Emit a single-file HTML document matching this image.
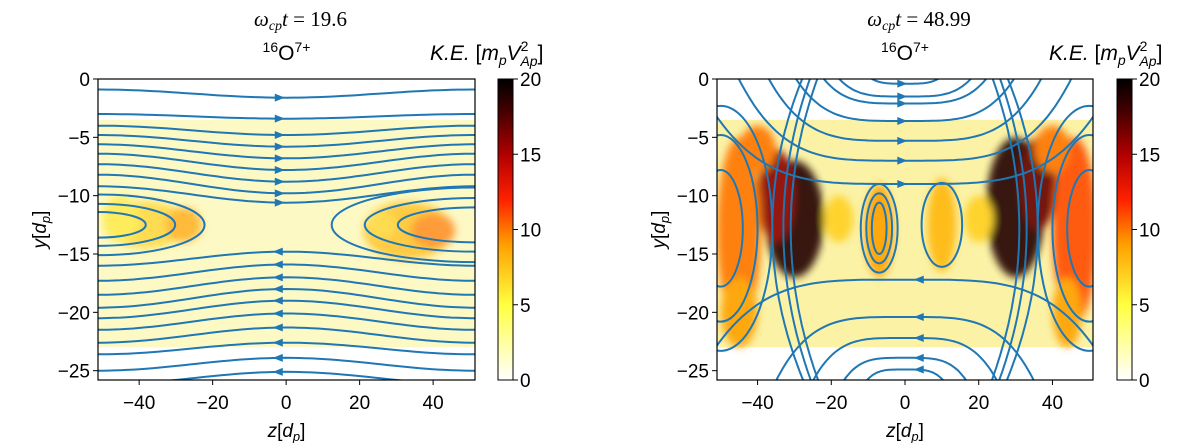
<!DOCTYPE html>
<html><head><meta charset="utf-8">
<style>
html,body{margin:0;padding:0;background:#fff;}
svg{display:block;font-family:"Liberation Sans",sans-serif;}
.tk{font-size:19px;fill:#000;}
</style></head>
<body>
<svg id="fig" width="1200" height="443" viewBox="0 0 1200 443" xmlns="http://www.w3.org/2000/svg">
<defs>
<linearGradient id="cmap" x1="0" y1="1" x2="0" y2="0">
<stop offset="0" stop-color="#ffffff"/><stop offset="0.25" stop-color="#ffff40"/>
<stop offset="0.45" stop-color="#ffa000"/><stop offset="0.6" stop-color="#ff2000"/>
<stop offset="0.75" stop-color="#b00000"/><stop offset="0.9" stop-color="#400000"/>
<stop offset="1" stop-color="#000000"/></linearGradient>
<filter id="blur" x="-50%" y="-50%" width="200%" height="200%"><feGaussianBlur stdDeviation="4"/></filter>
<clipPath id="clipL"><rect x="98" y="79" width="377" height="301"/></clipPath>
<clipPath id="clipR"><rect x="717" y="79" width="376" height="301"/></clipPath>
</defs>
</svg>
<script>
// ---- data ----
const xTicks=[-40,-20,0,20,40];
const yTicks=[0,-5,-10,-15,-20,-25];
const cbTicks=[0,5,10,15,20];
const titles=["19.6","48.99"];
// left panel hot spots
const lSpotZ=[-38,-28,-45,33,40,26];
const lSpotY=[-12.5,-12.5,-12,-13,-13,-12.5];
const lSpotRz=[11,5,5,12,6,4];
const lSpotRy=[2,1.5,2,2.5,1.5,1.2];
const lSpotKE=[7,9,6,8,10,7];
// right panel hot spots
const rSpotZ=[-30,-35,-45,30,36,46,-7,10,-45,44,-18,20,-40,40];
const rSpotY=[-12,-10,-13,-11,-9,-13,-13,-12.5,-20,-20,-12,-12,-6,-6];
const rSpotRz=[8,5,6,8,5,6,4,4,5,4,4,4,5,5];
const rSpotRy=[5,4,8,6,4,8,4,4,3,3,2,2,2,2];
const rSpotKE=[19,16,10,19,17,11,9,8,9,9,7,7,10,10];
// left streamlines: center y, edge y
const lUpC=[-1.6,-3.4,-4.8,-5.8,-6.8,-7.8,-8.8,-9.8,-10.6];
const lUpE=[-0.9,-3.0,-4.0,-4.8,-5.6,-6.4,-7.3,-8.2,-9.2];
const lLoC=[-14.8,-15.9,-17.0,-18.0,-19.0,-20.1,-21.3,-22.6,-23.9,-25.1];
const lLoE=[-16.0,-17.3,-18.5,-19.6,-20.5,-21.5,-22.6,-23.6,-25.0,-26.2];
const lIslZ=[-51.2,-51.2,-51.2,51.4,51.4,51.4];
const lIslRz=[29,21,13,39,30,21];
const lIslRy=[2.6,1.8,1.1,3.2,2.3,1.5];
// right streamlines
const rUpC=[-0.4,-1.5,-2.1,-3.6,-5.3,-7.0,-9.0];
const rUpH=[14,22,26,33,40,48,60];
const rLoC=[-24.9,-23.9,-22.2,-20.4,-17.2];
const rLoH=[14,20,28,38,60];
const rVertZ=[-23,-25,-27,23,25,27];
const rVertB=[-8,-8,-9,8,8,9];
const rIslZ=[-7,-7,-7,10,-50,-50,-50,50,50,50];
const rIslY=[-12.8,-12.8,-12.8,-12.5,-12.8,-12.8,-12.8,-12.8,-12.8,-12.8];
const rIslRz=[5,3.5,2,5.5,6,10,14,6,10,14];
const rIslRy=[3.8,3,2.2,3.6,5,8,10.5,5,8,10.5];

const NS="http://www.w3.org/2000/svg";
const svg=document.getElementById('fig');
function mk(tag,attrs,parent){const e=document.createElementNS(NS,tag);for(const k in attrs)e.setAttribute(k,attrs[k]);(parent||svg).appendChild(e);return e;}
function keColor(v){
  const stops=[[0,[255,255,255]],[0.25,[255,255,64]],[0.45,[255,160,0]],[0.6,[255,32,0]],[0.75,[176,0,0]],[0.9,[64,0,0]],[1,[0,0,0]]];
  const t=Math.max(0,Math.min(1,v/20));
  for(let i=1;i<stops.length;i++){if(t<=stops[i][0]){const a=stops[i-1],b=stops[i];const f=(t-a[0])/(b[0]-a[0]);
    const c=a[1].map((x,j)=>Math.round(x+(b[1][j]-x)*f));return `rgb(${c[0]},${c[1]},${c[2]})`;}}
  return '#000';
}
function panel(P){
  const sx=z=>P.x0+(z-P.zmin)/(P.zmax-P.zmin)*(P.x1-P.x0);
  const sy=y=>P.y0+(0-y)/(25.8)*(P.y1-P.y0);
  const g=mk('g',{'clip-path':`url(#${P.clip})`});
  
  
  const band=mk('rect',{x:P.x0,y:sy(-3.5),width:P.x1-P.x0,height:sy(-23)-sy(-3.5),fill:P.band},g);
  
  
  const sg=mk('g',{filter:'url(#blur)',opacity:P.spotOp},g);
  for(let i=0;i<P.sz.length;i++){
    const e=mk('ellipse',{cx:sx(P.sz[i]),cy:sy(P.sy[i]),rx:P.srz[i]*(P.x1-P.x0)/102.6,ry:P.sry[i]*(P.y1-P.y0)/25.8,fill:keColor(P.ske[i])},sg);
    
    
  }
  const lg=mk('g',{fill:'none',stroke:'#1f77b4','stroke-width':2},g);
  P.lines(sx,sy,lg);
  const fr=mk('rect',{x:P.x0,y:P.y0,width:P.x1-P.x0,height:P.y1-P.y0,fill:'none',stroke:'#000','stroke-width':1.2});
  
  
  xTicks.forEach(v=>{const x=sx(v);mk('line',{x1:x,x2:x,y1:P.y1,y2:P.y1+5,stroke:'#000'});
    const t=mk('text',{x:x,y:P.y1+29,'text-anchor':'middle',class:'tk'});t.textContent=(v<0?'\u2212':'')+Math.abs(v);
    
    });
  yTicks.forEach(v=>{const y=sy(v);mk('line',{x1:P.x0-5,x2:P.x0,y1:y,y2:y,stroke:'#000'});
    const t=mk('text',{x:P.x0-8,y:y+7,'text-anchor':'end',class:'tk'});t.textContent=(v<0?'\u2212':'')+Math.abs(v);
    
    });
  const xl=mk('text',{x:(P.x0+P.x1)/2,y:437,'text-anchor':'middle',class:'tk'});
  xl.innerHTML='<tspan font-style="italic">z</tspan>[<tspan font-style="italic">d</tspan><tspan font-size="13" dy="4" font-style="italic">p</tspan><tspan dy="-4">]</tspan>';
  
  
  const yl=mk('text',{transform:`translate(${P.x0-52},${(P.y0+P.y1)/2}) rotate(-90)`,'text-anchor':'middle',class:'tk'});
  yl.innerHTML='<tspan font-style="italic">y</tspan>[<tspan font-style="italic">d</tspan><tspan font-size="13" dy="4" font-style="italic">p</tspan><tspan dy="-4">]</tspan>';
  
  
  const cx=(P.x0+P.x1)/2;
  const t1=mk('text',{x:cx+14,y:26,'text-anchor':'middle','font-family':'Liberation Serif,serif','font-size':21});
  t1.innerHTML='<tspan font-style="italic">ω</tspan><tspan font-style="italic" font-size="14" dy="4">cp</tspan><tspan font-style="italic" dy="-4">t</tspan> = '+P.title;
  
  
  const t2=mk('text',{x:cx,y:60,'text-anchor':'middle','font-size':21});
  t2.innerHTML='<tspan font-size="14" dy="-8">16</tspan><tspan dy="8">O</tspan><tspan font-size="14" dy="-8">7+</tspan>';
  
  
  const cb=mk('rect',{x:P.cbx,y:P.y0,width:15,height:P.y1-P.y0,fill:'url(#cmap)',stroke:'#000','stroke-width':1});
  
  
  cbTicks.forEach(v=>{const y=P.y1-v/20*(P.y1-P.y0);mk('line',{x1:P.cbx+15,x2:P.cbx+20,y1:y,y2:y,stroke:'#000'});
    const t=mk('text',{x:P.cbx+22,y:y+7,class:'tk'});t.textContent=v;
    
    });
  const cl=mk('text',{x:P.cbx-68,y:60,'font-size':21});
  cl.innerHTML='<tspan font-style="italic">K.E.</tspan> [<tspan font-style="italic">m</tspan><tspan font-style="italic" font-size="14" dy="5">p</tspan><tspan font-style="italic" dy="-5">V</tspan><tspan font-size="14" dy="-9">2</tspan><tspan font-style="italic" font-size="14" dx="-8" dy="15">Ap</tspan><tspan dy="-6">]</tspan>';
  
  
}
function arrow(g,x,y,dir){
  const a=mk('path',{d:`M${x+6*dir},${y} L${x-4*dir},${y-4} L${x-4*dir},${y+4}Z`,fill:'#1f77b4',stroke:'none'},g);
  
  
}
function poly(g,pts){
  const p=mk('path',{d:'M'+pts.map(q=>q[0].toFixed(1)+','+q[1].toFixed(1)).join(' L')},g);
  
  
  return p;
}
function ellipse(g,sx,sy,z,y,rz,ry){
  const e=mk('ellipse',{cx:sx(z),cy:sy(y),rx:Math.abs(sx(rz)-sx(0)),ry:Math.abs(sy(-ry)-sy(0))},g);
  
  
}
function leftLines(sx,sy,g){
  const draw=(C,E,dir)=>{for(let i=0;i<C.length;i++){const pts=[];
    for(let k=0;k<=60;k++){const z=-52+104*k/60;const f=(1+Math.cos(Math.PI*z/51.2))/2;pts.push([sx(z),sy(E[i]+(C[i]-E[i])*f)]);}
    poly(g,pts);arrow(g,sx(-2),sy(C[i]),dir);}};
  draw(lUpC,lUpE,1);draw(lLoC,lLoE,-1);
  for(let i=0;i<lIslZ.length;i++)ellipse(g,sx,sy,lIslZ[i],-12.5,lIslRz[i],lIslRy[i]);
}
function rightLines(sx,sy,g){
  for(let i=0;i<rUpC.length;i++){const pts=[];const H=rUpH[i];for(let k=0;k<=80;k++){const z=-Math.min(H,52)+2*Math.min(H,52)*k/80;pts.push([sx(z),sy(rUpC[i]+(2-rUpC[i])*(z/H)**4)]);}poly(g,pts);arrow(g,sx(-1),sy(rUpC[i]),1);}
  for(let i=0;i<rLoC.length;i++){const pts=[];const H=rLoH[i];for(let k=0;k<=80;k++){const z=-Math.min(H,52)+2*Math.min(H,52)*k/80;pts.push([sx(z),sy(rLoC[i]+(-28-rLoC[i])*(z/H)**4)]);}poly(g,pts);arrow(g,sx(4),sy(rLoC[i]),-1);}
  for(let i=0;i<rVertZ.length;i++){const pts=[];for(let k=0;k<=60;k++){const y=-26+27*k/60;const u=(y+12.8)/13.5;pts.push([sx(rVertZ[i]+rVertB[i]*(1-u*u)),sy(y)]);}poly(g,pts);}
  for(let i=0;i<rIslZ.length;i++)ellipse(g,sx,sy,rIslZ[i],rIslY[i],rIslRz[i],rIslRy[i]);
}
panel({name:'left',x0:98,x1:475,y0:79,y1:380,zmin:-51.2,zmax:51.4,clip:'clipL',band:'#fdf9c4',spotOp:0.7,
  sz:lSpotZ,sy:lSpotY,srz:lSpotRz,sry:lSpotRy,ske:lSpotKE,lines:leftLines,title:titles[0],cbx:498});
panel({name:'right',x0:717,x1:1093,y0:79,y1:380,zmin:-51,zmax:51,clip:'clipR',band:'#fbf2a6',spotOp:0.9,
  sz:rSpotZ,sy:rSpotY,srz:rSpotRz,sry:rSpotRy,ske:rSpotKE,lines:rightLines,title:titles[1],cbx:1117});
</script>
</body></html>
